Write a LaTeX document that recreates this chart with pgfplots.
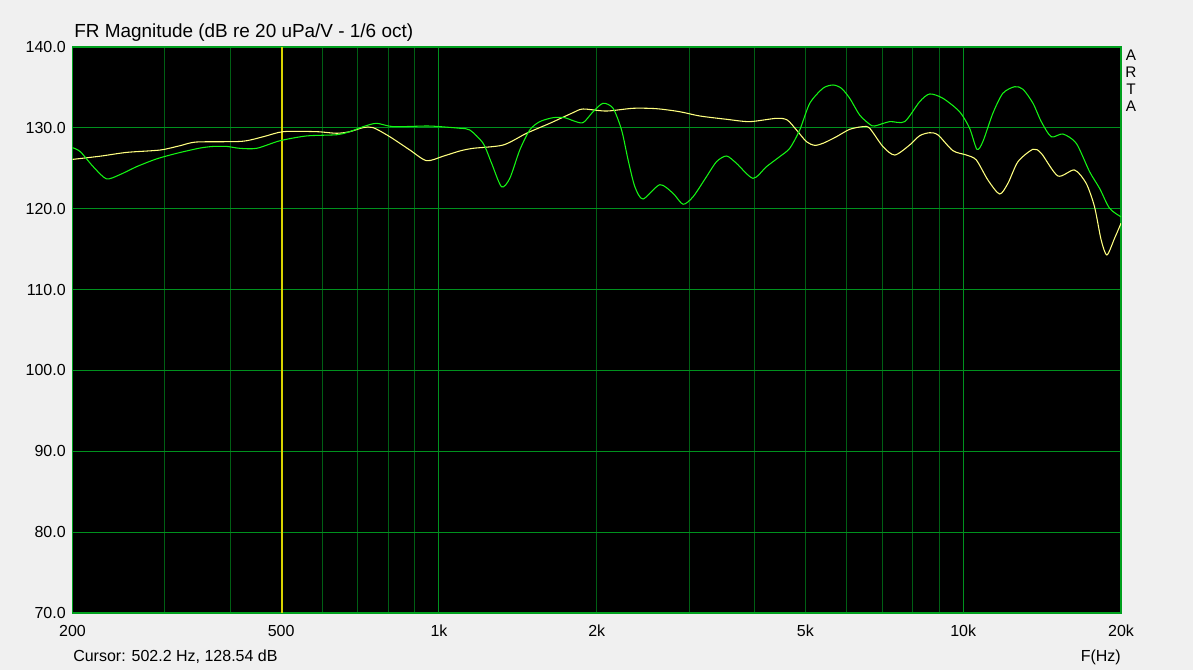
\documentclass[border=0pt]{standalone}
\usepackage{fontspec}
\setmainfont{Liberation Sans}
\usepackage{pgfplots}
\pgfplotsset{compat=1.18}
\definecolor{bgcol}{RGB}{240,240,240}
\definecolor{gridmaj}{RGB}{0,145,30}
\definecolor{gridmin}{RGB}{0,95,20}
\definecolor{framecol}{RGB}{0,160,30}
\definecolor{gcurve}{RGB}{20,245,20}
\definecolor{ycurve}{RGB}{255,255,128}
\definecolor{cursorcol}{RGB}{215,210,0}
\begin{document}
\begin{tikzpicture}
\fill[bgcol] (0,0) rectangle (894.75pt,502.5pt);
\useasboundingbox (0,0) rectangle (894.75pt,502.5pt);
\begin{axis}[
  at={(54.375pt,42.75pt)}, anchor=south west,
  scale only axis, width=786.375pt, height=424.5pt,
  xmode=log, xmin=200, xmax=20000, ymin=70, ymax=140,
  axis background/.style={fill=black},
  axis line style={draw=framecol, line width=0.9pt},
  xtick={200,300,400,500,600,700,800,900,2000,3000,4000,5000,6000,7000,8000,9000,20000},
  xticklabels={200,,,500,,,,,2k,,,5k,,,,,20k},
  extra x ticks={1000,10000}, extra x tick labels={1k,10k},
  ytick={70,80,90,100,110,120,130,140},
  yticklabels={70.0,80.0,90.0,100.0,110.0,120.0,130.0,140.0},
  major tick length=0pt, minor tick length=0pt,
  xmajorgrids, ymajorgrids,
  x grid style={draw=gridmin, line width=0.75pt},
  y grid style={draw=gridmaj, line width=0.75pt},
  ticklabel style={font=\fontsize{12}{14}\selectfont, text=black},
  xticklabel style={anchor=center, yshift=-13.5pt},
  yticklabel style={anchor=east, inner sep=0pt, xshift=-4.9pt},
  clip=true,
]
\addplot[gridmaj, line width=0.75pt] coordinates {(1000,70) (1000,140)};
\addplot[gridmaj, line width=0.75pt] coordinates {(10000,70) (10000,140)};
\addplot[cursorcol, line width=1.5pt] coordinates {(502.2,70) (502.2,140)};
% yellow curve
\addplot[ycurve, line width=0.8pt, smooth, tension=0.45] coordinates {
(200,126.1) (226,126.5) (254,126.97) (294,127.26) (321,127.8) (345,128.25)
(420,128.33) (462,128.9) (505,129.53) (584,129.53) (638,129.33) (676,129.53)
(717,130.03) (749,130.03) (806,128.9) (880,127.26) (947,125.94) (1019,126.5)
(1096,127.14) (1162,127.47) (1326,127.88) (1469,129.33) (1627,130.56)
(1802,131.88) (1883,132.33) (2087,132.08) (2346,132.42) (2599,132.37)
(2878,132.0) (3143,131.47) (3536,131.06) (3915,130.77) (4403,131.18)
(4617,130.97) (4807,129.74) (5023,128.29) (5208,127.84) (5402,128.09)
(5728,128.9) (6074,129.82) (6437,130.15) (6631,129.95) (7031,127.67)
(7404,126.64) (7906,127.88) (8259,129.03) (8630,129.4) (8953,129.12)
(9556,127.18) (10140,126.64) (10590,126.03) (11145,123.55) (11730,121.82)
(12170,123.14) (12720,125.82) (13586,127.35) (14090,126.85) (15157,124.05)
(16300,124.79) (17160,123.14) (17800,120.25) (18330,116.13) (18800,114.28)
(19440,116.34) (20000,118.2)
};
% green curve
\addplot[gcurve, line width=0.8pt, smooth, tension=0.45] coordinates {
(200,127.55) (207,127.05) (219,125.2) (232,123.7) (246,124.2) (265,125.2)
(289,126.15) (316,126.85) (350,127.5) (371,127.7) (394,127.7) (417,127.47)
(449,127.47) (497,128.4) (559,129.0) (638,129.15) (676,129.53) (717,130.15)
(760,130.56) (818,130.15) (947,130.23) (1004,130.15) (1096,129.95)
(1145,129.74) (1214,128.09) (1260,125.62) (1316,122.72) (1365,123.76)
(1426,127.26) (1490,129.74) (1557,130.77) (1651,131.26) (1738,131.26)
(1802,130.89) (1883,130.64) (1968,132.0) (2056,133.04) (2148,132.42)
(2230,129.74) (2295,126.03) (2364,122.72) (2450,121.2) (2638,122.97)
(2796,121.9) (2922,120.55) (3054,121.49) (3238,123.96) (3384,125.82)
(3536,126.52) (3694,125.62) (3973,123.76) (4214,125.2) (4466,126.44)
(4667,127.47) (4877,129.74) (5097,133.04) (5402,134.9) (5645,135.3)
(5856,134.9) (6074,133.66) (6346,131.59) (6631,130.44) (6778,130.23)
(7240,130.77) (7733,130.77) (8259,133.24) (8630,134.19) (9146,133.66)
(9841,132.0) (10285,129.95) (10620,127.35) (10900,128.29) (11390,131.8)
(11900,134.27) (12532,135.09) (13003,134.77) (13586,133.04) (14090,130.77)
(14720,128.9) (15490,129.24) (16430,128.09) (17420,124.58) (18200,122.53)
(19020,120.05) (20000,119.0)
};
\end{axis}
\node[anchor=west, inner sep=0pt, font=\fontsize{14.2}{16}\selectfont] at (55.5pt,477.75pt) {FR Magnitude (dB re 20 uPa/V - 1/6 oct)};
\node[anchor=west, inner sep=0pt, font=\fontsize{12}{14}\selectfont] at (54.75pt,9.75pt) {Cursor: 502.2 Hz, 128.54 dB};
\node[anchor=east, inner sep=0pt, font=\fontsize{12}{14}\selectfont] at (840.75pt,9.75pt) {F(Hz)};
\foreach \l/\yy in {A/461.0, R/448.1, T/435.2, A/422.5}
  \node[inner sep=0pt, font=\fontsize{11.5}{13}\selectfont] at (848.25pt,\yy pt) {\l};
\end{tikzpicture}
\end{document}
